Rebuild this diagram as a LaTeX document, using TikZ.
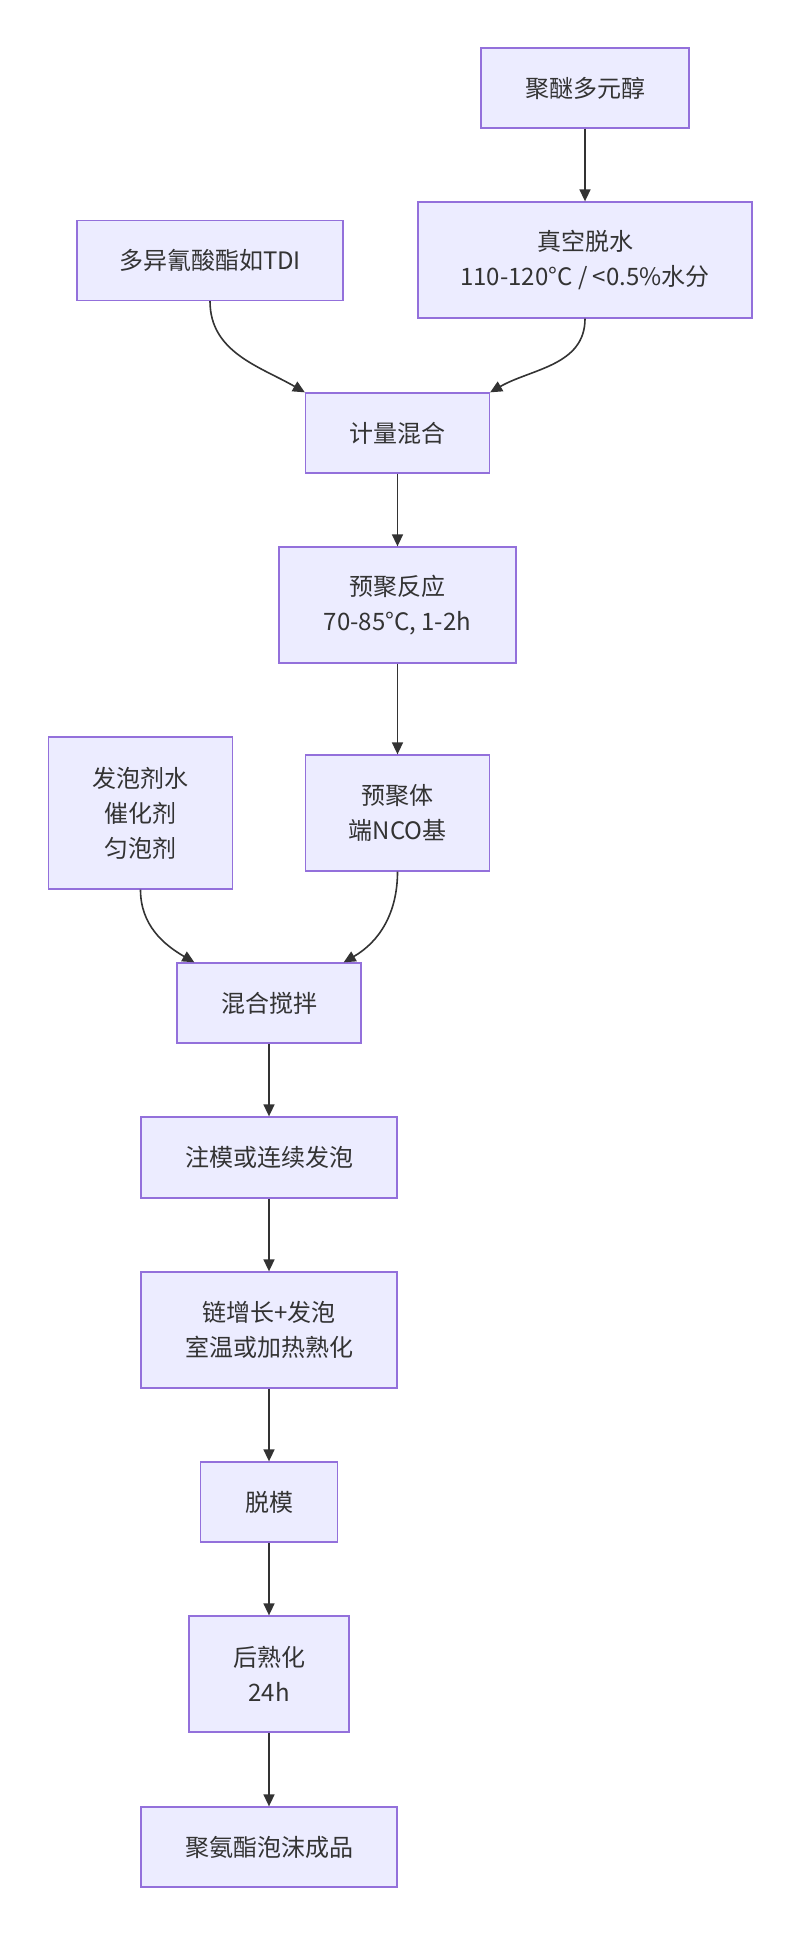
\documentclass[tikz,border=0pt]{standalone}
\usepackage{fontspec}
\setmainfont{Noto Sans CJK SC}
\usepackage{tikz}
\usetikzlibrary{arrows.meta,positioning,calc}
\definecolor{boxfill}{HTML}{ECECFF}
\definecolor{boxline}{HTML}{9370DB}
\definecolor{inkgray}{HTML}{333333}
\tikzset{
  procbox/.style={draw=boxline,fill=boxfill,line width=1.3pt,align=center,text=inkgray,
    inner sep=0pt,font=\fontsize{24}{35}\selectfont},
  boxdim/.style 2 args={minimum width=#1pt,minimum height=#2pt},
  flow/.style={draw=inkgray,line width=1.6pt,-{Triangle[length=12pt,width=11pt]}}
}

\begin{document}
\begin{tikzpicture}[x=1pt,y=1pt]
\useasboundingbox (0,0) rectangle (800,-1935);
% raw materials
\node[procbox,boxdim={208}{80}] (polyol) at (585,-88) {聚醚多元醇};
\node[procbox,boxdim={334}{116}] (dewater) at (585,-260) {真空脱水\\110-120°C / <0.5\%水分};
\node[procbox,boxdim={266}{80}] (tdi) at (210,-260.5) {多异氰酸酯如TDI};
% prepolymer stage
\node[procbox,boxdim={184}{80}] (meter) at (397.5,-433) {计量混合};
\node[procbox,boxdim={237}{116}] (prepoly) at (397.5,-605) {预聚反应\\70-85°C, 1-2h};
\node[procbox,boxdim={184}{116}] (prepolymer) at (397.5,-813) {预聚体\\端NCO基};
\node[procbox,boxdim={184}{152}] (additive) at (140.5,-813) {发泡剂水\\催化剂\\匀泡剂};
% foaming line
\node[procbox,boxdim={184}{80}] (mixer) at (269,-1003) {混合搅拌};
\node[procbox,boxdim={256}{81}] (casting) at (269,-1157.5) {注模或连续发泡};
\node[procbox,boxdim={256}{116}] (growth) at (269,-1330) {链增长+发泡\\室温或加热熟化};
\node[procbox,boxdim={137}{80}] (demold) at (269,-1502) {脱模};
\node[procbox,boxdim={160}{116}] (postcure) at (269,-1674) {后熟化\\24h};
\node[procbox,boxdim={256}{80}] (product) at (269,-1847) {聚氨酯泡沫成品};

\draw[flow] (polyol) -- (dewater);
\draw[flow] (tdi.south) to[out=-90,in=150] (meter.north west);
\draw[flow] (dewater.south) to[out=-90,in=30] (meter.north east);
\draw[flow] (meter) -- (prepoly);
\draw[flow] (prepoly) -- (prepolymer);
\draw[flow] (additive.south) to[out=-90,in=150] ($(mixer.north west)+(18,0)$);
\draw[flow] (prepolymer.south) to[out=-90,in=30] ($(mixer.north east)+(-18,0)$);
\draw[flow] (mixer) -- (casting);
\draw[flow] (casting) -- (growth);
\draw[flow] (growth) -- (demold);
\draw[flow] (demold) -- (postcure);
\draw[flow] (postcure) -- (product);
\end{tikzpicture}
\end{document}
